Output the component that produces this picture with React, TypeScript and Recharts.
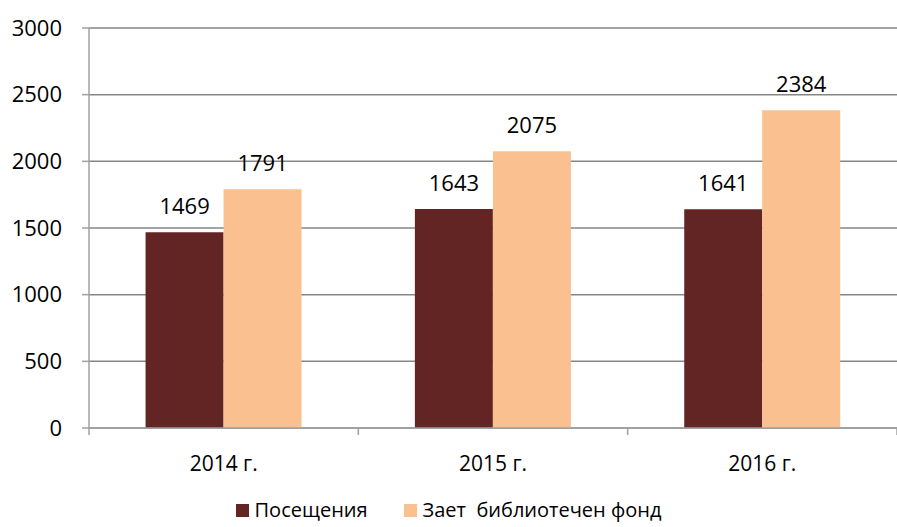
import React from 'react';
import { BarChart, Bar, XAxis, YAxis, CartesianGrid, LabelList } from 'recharts';

const years = ['2014 г.', '2015 г.', '2016 г.'];
const visits = [1469, 1643, 1641];
const loans = [1791, 2075, 2384];
const yTicks = [0, 500, 1000, 1500, 2000, 2500, 3000];
const boundaryTicks = [0, 1, 2, 3];

const seriesNames = ['Посещения', 'Зает  библиотечен фонд'];
const colors = ['#632523', '#FAC090'];

const data = years.map((year, i) => ({ year, visits: visits[i], loans: loans[i], slot: i + 0.5 }));

const FONT = '"Open Sans", "Liberation Sans", sans-serif';

const Legend = () => (
  <div
    style={{
      position: 'absolute',
      left: 0,
      top: 497,
      width: 897,
      display: 'flex',
      justifyContent: 'center',
      fontFamily: FONT,
      fontSize: 20,
      color: '#000',
      whiteSpace: 'pre',
      lineHeight: '26px',
    }}
  >
    {seriesNames.map((name, i) => (
      <div key={name} style={{ display: 'flex', alignItems: 'center', marginRight: i === 0 ? 36 : 0 }}>
        <span style={{ width: 13, height: 13, background: colors[i], display: 'inline-block', marginRight: 6 }} />
        <span>{name}</span>
      </div>
    ))}
  </div>
);

export default function App() {
  return (
    <div style={{ position: 'absolute', left: 0, top: 0, width: 897, height: 527, background: '#fff' }}>
      <BarChart
        width={897}
        height={527}
        data={data}
        margin={{ top: 28, right: 0, left: 0, bottom: 39 }}
        barCategoryGap="21%"
        barGap={0}
        style={{ fontFamily: FONT }}
      >
        <CartesianGrid vertical={false} stroke="#868686" strokeWidth={1.5} xAxisId="cat" />
        {/* boundary ticks between categories, like the original */}
        <XAxis
          xAxisId={0}
          dataKey="slot"
          type="number"
          domain={[0, 3]}
          ticks={boundaryTicks}
          interval={0}
          allowDataOverflow
          tickFormatter={() => ''}
          tickLine={{ stroke: '#A0A0A0', strokeWidth: 1.5 }}
          tickSize={7}
          tickMargin={0}
          axisLine={{ stroke: '#A0A0A0', strokeWidth: 1.5 }}
          height={1}
        />
        <XAxis
          xAxisId="cat"
          dataKey="year"
          height={59}
          tickLine={false}
          axisLine={false}
          tickSize={0}
          tickMargin={27}
          tick={{ fill: '#000', fontSize: 21 }}
        />
        <YAxis
          width={89}
          domain={[0, 3000]}
          ticks={yTicks}
          interval={0}
          tickSize={7}
          tickMargin={20}
          tickLine={{ stroke: '#A0A0A0', strokeWidth: 1.5 }}
          axisLine={{ stroke: '#A0A0A0', strokeWidth: 1.5 }}
          tick={{ fill: '#000', fontSize: 22 }}
        />
        <Bar xAxisId="cat" dataKey="visits" fill={colors[0]} isAnimationActive={false}>
          <LabelList dataKey="visits" position="top" offset={18} fill="#000" fontSize={22} />
        </Bar>
        <Bar xAxisId="cat" dataKey="loans" fill={colors[1]} isAnimationActive={false}>
          <LabelList dataKey="loans" position="top" offset={18} fill="#000" fontSize={22} />
        </Bar>
      </BarChart>
      <Legend />
    </div>
  );
}
